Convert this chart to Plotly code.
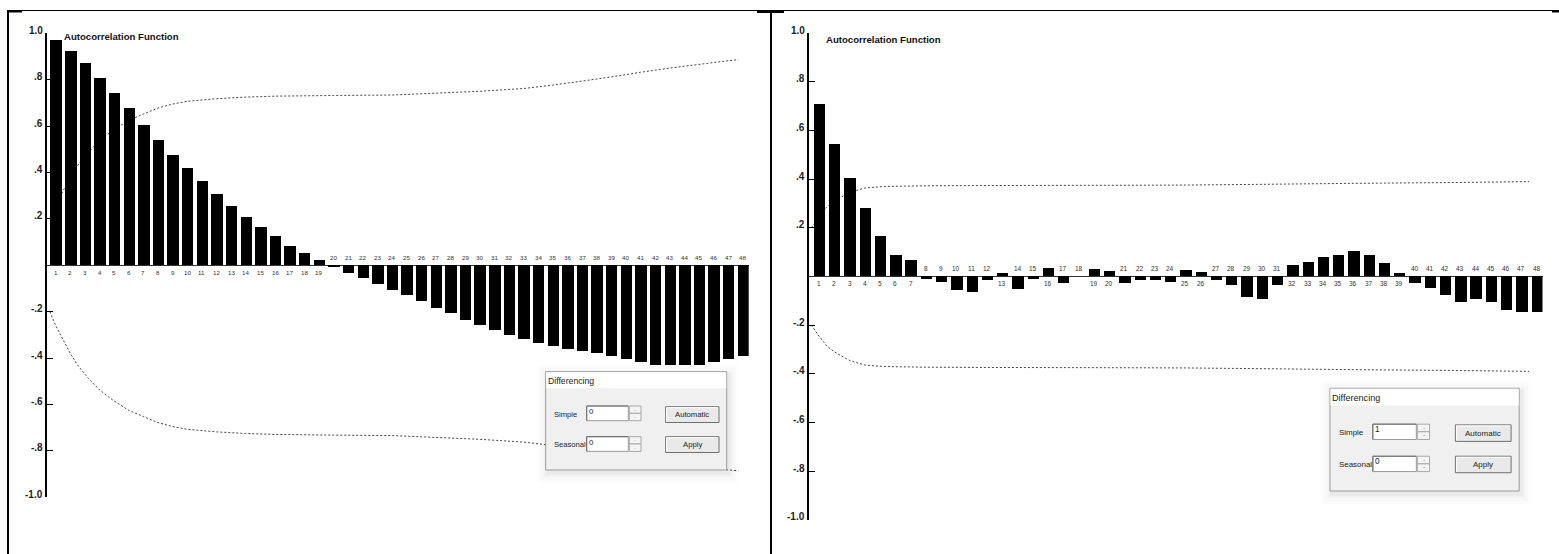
import plotly.graph_objects as go

W, H = 1559, 554

# ---------------- data ----------------
lags = list(range(1, 49))
lag_labels = [str(i) for i in lags]

acf_original = [0.969, 0.922, 0.869, 0.806, 0.743, 0.675, 0.605, 0.539, 0.476, 0.416,
                0.360, 0.305, 0.255, 0.208, 0.162, 0.123, 0.083, 0.052, 0.023, -0.007,
                -0.034, -0.057, -0.082, -0.106, -0.129, -0.156, -0.184, -0.208, -0.235, -0.259,
                -0.280, -0.301, -0.318, -0.335, -0.348, -0.360, -0.370, -0.378, -0.394, -0.407,
                -0.419, -0.429, -0.432, -0.432, -0.429, -0.419, -0.407, -0.393]

acf_diff1 = [0.708, 0.543, 0.403, 0.279, 0.166, 0.086, 0.067, -0.010, -0.023, -0.058,
             -0.064, -0.017, 0.012, -0.053, -0.012, 0.032, -0.029, 0.0, 0.028, 0.022,
             -0.029, -0.014, -0.014, -0.023, 0.025, 0.018, -0.016, -0.036, -0.084, -0.095,
             -0.036, 0.047, 0.059, 0.077, 0.086, 0.104, 0.086, 0.056, 0.015, -0.029,
             -0.047, -0.077, -0.106, -0.095, -0.106, -0.139, -0.147, -0.149]

band1_lag = [0.6, 1, 1.5, 2, 2.5, 3, 3.5, 4, 4.5, 5, 6, 7, 8, 9, 10, 12, 14, 16, 20, 24,
             27, 30, 33, 35, 37, 39, 41, 43, 45, 47, 47.7]
band1_val = [0.20, 0.26, 0.32, 0.38, 0.43, 0.47, 0.505, 0.537, 0.562, 0.585, 0.625, 0.652,
             0.678, 0.695, 0.707, 0.718, 0.725, 0.729, 0.732, 0.734, 0.742, 0.750, 0.762,
             0.777, 0.794, 0.812, 0.832, 0.850, 0.866, 0.882, 0.886]

band2_lag = [0.5, 1, 1.5, 2, 2.5, 3, 3.5, 4, 5, 6, 8, 12, 20, 25, 30, 36, 42, 47.5]
band2_val = [0.20, 0.245, 0.285, 0.31, 0.328, 0.345, 0.355, 0.364, 0.369, 0.371, 0.373,
             0.374, 0.375, 0.376, 0.379, 0.383, 0.386, 0.390]

y_ticks = [1.0, 0.8, 0.6, 0.4, 0.2, -0.2, -0.4, -0.6, -0.8, -1.0]
y_tick_text = ["1.0", ".8", ".6", ".4", ".2", "-.2", "-.4", "-.6", "-.8", "-1.0"]

chart_title = "Autocorrelation Function"
simple_values = ["0", "1"]
seasonal_values = ["0", "0"]

FONT = "Liberation Sans, Arial, sans-serif"


def X(px):
    return px / W


def Y(py):
    return 1 - py / H


fig = go.Figure()
shapes = []
ann = []

panels = [
    dict(xa="x", ya="y", vals=acf_original, blag=band1_lag, bval=band1_val,
         xdom=[46.5, 748.7], xr=[0.371, 48.4], ydom=[497.3, 33.3], width=0.78,
         title_x=61.5, title_y=36.7, lab_size=6.2),
    dict(xa="x2", ya="y2", vals=acf_diff1, blag=band2_lag, bval=band2_val,
         xdom=[808.5, 1542.5], xr=[0.312, 48.38], ydom=[519.7, 33.3], width=0.74,
         title_x=824, title_y=39, lab_size=6.5),
]

layout_axes = {}
for i, p in enumerate(panels):
    sfx = "" if i == 0 else "2"
    fig.add_trace(go.Bar(x=lags, y=p["vals"], width=p["width"], marker=dict(color="black", line=dict(width=0)),
                         xaxis=p["xa"], yaxis=p["ya"], showlegend=False, hoverinfo="skip"))
    layout_axes["xaxis" + sfx] = dict(domain=[X(p["xdom"][0]), X(p["xdom"][1])], range=p["xr"],
                                      anchor=p["ya"], showline=False, showticklabels=False,
                                      ticks="", showgrid=False, zeroline=False)
    layout_axes["yaxis" + sfx] = dict(domain=[Y(p["ydom"][0]), Y(p["ydom"][1])], range=[-1, 1],
                                      anchor=p["xa"], showline=True, linecolor="black", linewidth=2,
                                      ticks="inside", ticklen=6, tickwidth=1, tickcolor="black",
                                      tickvals=y_ticks, showticklabels=False, showgrid=False,
                                      zeroline=True, zerolinecolor="#333", zerolinewidth=1)
    # confidence bands (dotted) drawn below the bars
    for sign in (1, -1):
        path = "M " + " L ".join(f"{l},{sign * v}" for l, v in zip(p["blag"], p["bval"]))
        shapes.append(dict(type="path", path=path, xref=p["xa"], yref=p["ya"], layer="below",
                           line=dict(color="#444", width=1, dash="2px,2px")))
    # lag labels
    for lag, v, lab in zip(lags, p["vals"], lag_labels):
        ann.append(dict(x=lag, y=0, xref=p["xa"], yref=p["ya"], text=lab, showarrow=False,
                        font=dict(family=FONT, size=p["lab_size"], color="#333"),
                        yshift=-7 if v > 0 else 8, xanchor="center", yanchor="middle"))
    # y tick labels
    for t, tt in zip(y_ticks, y_tick_text):
        ann.append(dict(x=0, y=t, xref=p["xa"] + " domain", yref=p["ya"], text="<b>" + tt + "</b>",
                        showarrow=False, xanchor="right", yanchor="middle", xshift=-2, yshift=3,
                        font=dict(family=FONT, size=10, color="#222")))
    # title
    ann.append(dict(x=X(p["title_x"]), y=Y(p["title_y"]), xref="paper", yref="paper",
                    text="<b>" + chart_title + "</b>", showarrow=False, xanchor="left", yanchor="middle",
                    font=dict(family=FONT, size=9.6, color="#111")))


def rect(x0, y0, x1, y1, fill, line_color=None, lw=1, opacity=1.0):
    shapes.append(dict(type="rect", xref="paper", yref="paper", x0=X(x0), x1=X(x1), y0=Y(y1), y1=Y(y0),
                       fillcolor=fill, opacity=opacity, layer="above",
                       line=dict(color=line_color if line_color else fill, width=lw if line_color else 0)))


def line(x0, y0, x1, y1, color, lw=1):
    shapes.append(dict(type="line", xref="paper", yref="paper", x0=X(x0), x1=X(x1), y0=Y(y0), y1=Y(y1),
                       line=dict(color=color, width=lw), layer="above"))


def text(x, y, s, size, anchor="left", color="#222"):
    ann.append(dict(x=X(x), y=Y(y), xref="paper", yref="paper", text=s, showarrow=False,
                    xanchor=anchor, yanchor="middle", borderpad=0,
                    font=dict(family=FONT, size=size, color=color)))


def dialog(bx, by, s, simple_val, seasonal_val):
    def px(dx):
        return bx + dx * s

    def py(dy):
        return by + dy * s
    w, h = 181, 98.3
    # soft shadow
    for k, op in [(10, 0.012), (7, 0.016), (4, 0.022), (2, 0.03)]:
        rect(px(0) - k + 2, py(0) - k + 3, px(w) + k + 2, py(h) + k + 3, "black", opacity=op)
    rect(px(0), py(0), px(w), py(h), "#f0f0f0", "#9a9a9a", 1)
    rect(px(0) + 0.5, py(0) + 0.5, px(w) - 0.5, py(16.5), "#ffffff")
    text(px(1.0), py(9.3), "Differencing", 8.7 * s)
    for row_y, lab, val in [(34.3, "Simple", simple_val), (65, "Seasonal", seasonal_val)]:
        text(px(7.6), py(row_y + 8.0), lab, 7.6 * s)
        # input box
        rect(px(41), py(row_y), px(82.6), py(row_y + 14.7), "#ffffff", "#9a9a9a", 1)
        line(px(41), py(row_y), px(82.6), py(row_y), "#6a6a6a", 1)
        line(px(41), py(row_y), px(41), py(row_y + 14.7), "#6a6a6a", 1)
        text(px(42.5), py(row_y + 5.5), val, 7.8 * s)
        # spinner
        rect(px(83.6), py(row_y), px(95.3), py(row_y + 7.3), "#f4f4f4", "#a8a8a8", 1)
        rect(px(83.6), py(row_y + 7.3), px(95.3), py(row_y + 14.7), "#f4f4f4", "#a8a8a8", 1)
        text(px(89.5), py(row_y + 3.7), "·", 6 * s, "center", "#333")
        text(px(89.5), py(row_y + 11), "·", 6 * s, "center", "#333")
    for row_y, lab in [(35, "Automatic"), (65, "Apply")]:
        rect(px(120), py(row_y), px(173.3), py(row_y + 15.8), "#e9e9e9", "#6f6f6f", 1)
        line(px(121), py(row_y + 1), px(172.3), py(row_y + 1), "#ffffff", 1)
        line(px(121), py(row_y + 1), px(121), py(row_y + 14.8), "#ffffff", 1)
        text(px(146.6), py(row_y + 8), lab, 7.7 * s, "center")


dialog(545.7, 371.7, 1.0, simple_values[0], seasonal_values[0])
dialog(1330, 388.3, 1.045, simple_values[1], seasonal_values[1])

# outer frame of the two-cell table
line(7, 10.5, 1559, 10.5, "black", 1)
line(8, 10, 8, 554, "black", 2)
line(771, 10, 771, 554, "black", 2)
rect(7, 10, 22, 12.5, "black")
rect(757, 10, 784, 13, "black")
rect(1552, 10, 1559, 12.5, "black")

fig.update_layout(width=W, height=H, margin=dict(l=0, r=0, t=0, b=0),
                  paper_bgcolor="white", plot_bgcolor="rgba(0,0,0,0)",
                  shapes=shapes, annotations=ann, showlegend=False, bargap=0,
                  **layout_axes)

fig.write_html("out.html")
